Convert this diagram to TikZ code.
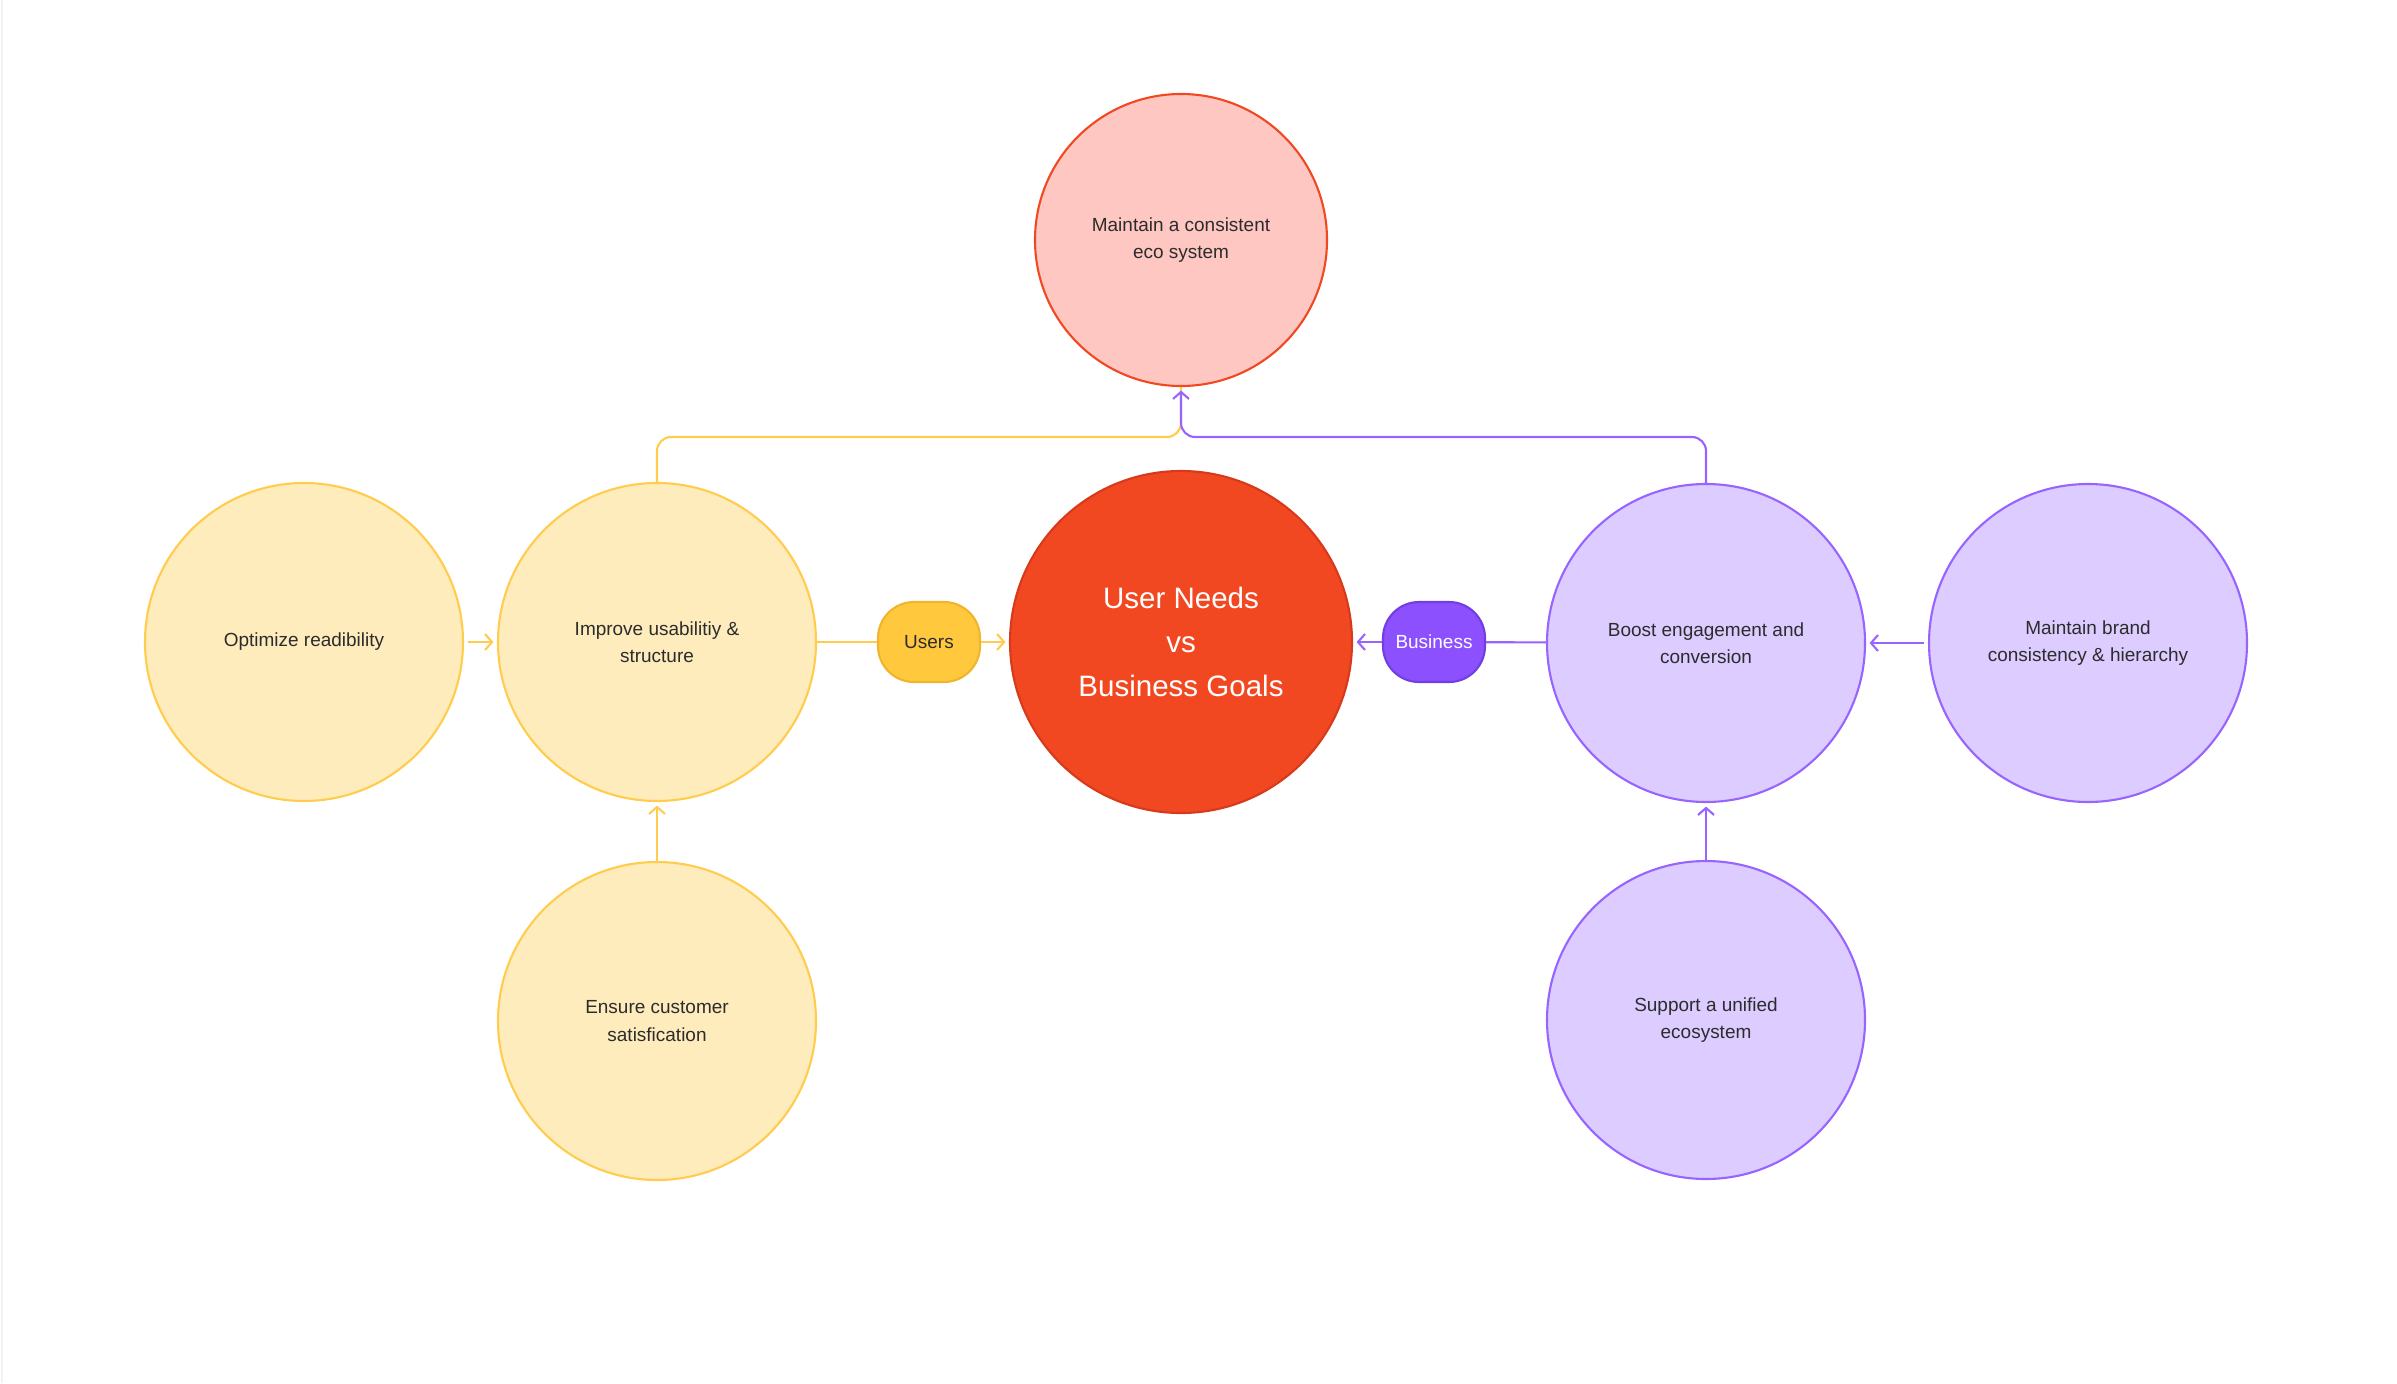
\documentclass[tikz,border=0pt]{standalone}
\usepackage{fontspec}
\setmainfont{Liberation Sans}
\usepackage{tikz}
\usetikzlibrary{arrows.meta,positioning,calc}
\definecolor{inkdark}{RGB}{44,44,44}
\definecolor{sunfill}{RGB}{255,236,189}
\definecolor{sunline}{RGB}{255,204,77}
\definecolor{sunpill}{RGB}{255,200,61}
\definecolor{sunpilledge}{RGB}{240,180,45}
\definecolor{brickred}{RGB}{242,72,34}
\definecolor{brickedge}{RGB}{214,58,26}
\definecolor{blushfill}{RGB}{255,199,194}
\definecolor{lilacfill}{RGB}{220,204,255}
\definecolor{lilacline}{RGB}{151,100,255}
\definecolor{grapepill}{RGB}{140,80,255}
\definecolor{grapeedge}{RGB}{112,62,225}
\definecolor{framegrey}{RGB}{242,242,242}
\tikzset{
  base/.style={font=\fontsize{5.4}{7.8}\selectfont, align=center, text=inkdark, inner sep=0pt},
  bubble/.style={base, circle, minimum size=3.18cm, line width=0.6pt},
  usergoal/.style={bubble, draw=sunline, fill=sunfill},
  bizgoal/.style={bubble, draw=lilacline, fill=lilacfill},
  shared/.style={bubble, minimum size=2.92cm, draw=brickred, fill=blushfill},
  core/.style={base, circle, minimum size=3.42cm, draw=brickedge, fill=brickred, line width=0.6pt,
    text=white, font=\fontsize{8.4}{12.6}\selectfont},
  pill/.style={base, rectangle, rounded corners=0.36cm, minimum width=1.02cm, minimum height=0.8cm, line width=0.6pt},
  userpill/.style={pill, draw=sunpilledge, fill=sunpill},
  bizpill/.style={pill, draw=grapeedge, fill=grapepill, text=white},
  link/.style={line width=0.6pt},
  arr/.style={link, -{Straight Barb[length=0.7mm,width=1.6mm]}, shorten >=1pt},
}

\begin{document}
\begin{tikzpicture}
  \useasboundingbox (0,0) rectangle (23.97,-13.83);
  \draw[framegrey, line width=0.6pt] (0.02,0) -- (0.02,-13.83);
  % centre and shared goal
  \node[core] (needs) at (11.81,-6.42) {User Needs\\vs\\Business Goals};
  \node[shared] (eco) at (11.81,-2.40) {Maintain a consistent\\eco system};
  \coordinate (join) at (11.81,-4.37);
  % user side
  \node[userpill] (users) at (9.29,-6.42) {Users};
  \node[usergoal] (improve) at (6.57,-6.42) {Improve usabilitiy \&\\structure};
  \node[usergoal] (readable) at (3.04,-6.42) {Optimize readibility};
  \node[usergoal] (satisfy) at (6.57,-10.21) {Ensure customer\\satisfication};
  % business side
  \node[bizpill] (business) at (14.34,-6.42) {Business};
  \node[bizgoal] (boost) at (17.06,-6.43) {Boost engagement and\\conversion};
  \node[bizgoal] (brand) at (20.88,-6.43) {Maintain brand\\consistency \& hierarchy};
  \node[bizgoal] (unified) at (17.06,-10.20) {Support a unified\\ecosystem};
  % connectors
  \draw[arr, sunline, shorten <=1pt] (readable) -- (improve);
  \draw[arr, sunline] (satisfy) -- (improve);
  \draw[link, sunline] (improve) -- (users);
  \draw[arr, sunline] (users) -- (needs);
  \draw[link, sunline, rounded corners=4pt] (improve.north) |- (join) -- (eco.south);
  \draw[arr, lilacline, shorten <=1pt] (brand) -- (boost);
  \draw[arr, lilacline] (unified) -- (boost);
  \draw[link, lilacline] (boost) -- (business);
  \draw[arr, lilacline] (business) -- (needs);
  \draw[arr, lilacline, rounded corners=4pt] (boost.north) |- (join) -- (eco.south);
\end{tikzpicture}
\end{document}
